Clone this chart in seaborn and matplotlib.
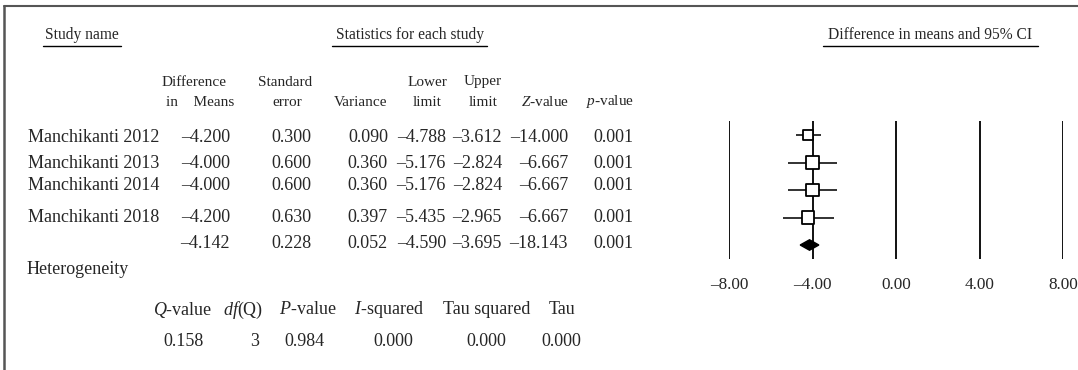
import numpy as np
import pandas as pd
import matplotlib
matplotlib.use("Agg")
import matplotlib.pyplot as plt
import seaborn as sns

sns.set_style("white")
plt.rcParams['font.family'] = ['Liberation Serif', 'DejaVu Serif']
plt.rcParams['mathtext.fontset'] = 'custom'
plt.rcParams['mathtext.rm'] = 'Liberation Serif'
plt.rcParams['mathtext.it'] = 'Liberation Serif:italic'

# study-level data (last row = pooled estimate)
studies = ["Manchikanti 2012", "Manchikanti 2013", "Manchikanti 2014", "Manchikanti 2018", ""]
diff_means = [-4.200, -4.000, -4.000, -4.200, -4.142]
std_err = [0.300, 0.600, 0.600, 0.630, 0.228]
variance = [0.090, 0.360, 0.360, 0.397, 0.052]
lower_limit = [-4.788, -5.176, -5.176, -5.435, -4.590]
upper_limit = [-3.612, -2.824, -2.824, -2.965, -3.695]
z_value = [-14.000, -6.667, -6.667, -6.667, -18.143]
p_value = [0.001, 0.001, 0.001, 0.001, 0.001]

# heterogeneity
het_labels = ["$Q$-value", "$df$(Q)", "$P$-value", "$I$-squared", "Tau squared", "Tau"]
het_values = ["0.158", "3", "0.984", "0.000", "0.000", "0.000"]

x_ticks = [-8, -4, 0, 4, 8]

df = pd.DataFrame({
    "study": studies, "diff": diff_means, "se": std_err, "var": variance,
    "lower": lower_limit, "upper": upper_limit, "z": z_value, "p": p_value,
})
df["row"] = np.arange(len(df))


def fmt(v):
    return f"{v:.3f}".replace("-", "\u2013")


W, H = 1078, 370
fig = plt.figure(figsize=(W / 100, H / 100), dpi=100)

# background axes in pixel coordinates for the table
bg = fig.add_axes([0, 0, 1, 1])
bg.set_xlim(0, W)
bg.set_ylim(H, 0)
bg.axis('off')

frame_c = '#555555'
bg.plot([4, W], [6, 6], color=frame_c, lw=1.5)
bg.plot([4, 4], [6, H], color=frame_c, lw=1.8)

# section headers with underlines
hdr_fs = 11.2
for txt, x0, x1 in [("Study name", 43, 121),
                    ("Statistics for each study", 332, 487),
                    ("Difference in means and 95% CI", 823, 1038)]:
    bg.text((x0 + x1) / 2, 35, txt, fontsize=hdr_fs, ha='center', va='center')
    bg.plot([x0, x1], [46, 46], color='black', lw=1.0)

# column headers
col_hdr = [
    ("Difference", 194, 82), ("in    Means", 200, 102),
    ("Standard", 285, 82), ("error", 287, 102),
    ("Variance", 361, 102),
    ("Lower", 427, 82), ("limit", 427, 102),
    ("Upper", 483, 82), ("limit", 483, 102),
    ("$Z$-value", 545, 102), ("$p$-value", 610, 102),
]
for txt, x, y in col_hdr:
    bg.text(x, y, txt, fontsize=11, ha='center', va='center')

# table rows
row_y = [137, 163, 185, 217, 243]
col_right = {"diff": 230, "se": 311, "var": 388, "lower": 446,
             "upper": 502, "z": 568, "p": 634}
fs = 13
for i, r in df.iterrows():
    y = row_y[i]
    bg.text(28, y, r["study"], fontsize=fs, ha='left', va='center')
    for col, xr in col_right.items():
        bg.text(xr, y, fmt(r[col]), fontsize=fs, ha='right', va='center')

# heterogeneity block
bg.text(27, 270, "Heterogeneity", fontsize=fs, ha='left', va='center')
het_hdr_x = [183, 243, 308, 389, 487, 562]
het_val_x = [183, 255, 304, 393, 486, 561]
for lab, x in zip(het_labels, het_hdr_x):
    bg.text(x, 310, lab, fontsize=fs, ha='center', va='center')
for val, x in zip(het_values, het_val_x):
    bg.text(x, 341, val, fontsize=fs, ha='center', va='center')

# forest plot axes
fx0, fx1 = 729, 1063
fy0, fy1 = 121.25, 258.75
ax = fig.add_axes([fx0 / W, 1 - fy1 / H, (fx1 - fx0) / W, (fy1 - fy0) / H])
ax.set_xlim(-8, 8)
ax.set_ylim(4.5, -0.5)
ax.patch.set_alpha(0)
for s in ax.spines.values():
    s.set_visible(False)
for xv in x_ticks:
    ax.axvline(xv, color='#111111', lw=1.4, zorder=1)

studies_df = df.iloc[:4]
ax.hlines(studies_df["row"], studies_df["lower"], studies_df["upper"],
          color='#222222', lw=1.3, zorder=2)
sns.scatterplot(data=studies_df, x="diff", y="row", marker='s',
                s=[52, 75, 75, 75], color='white', edgecolor='black',
                linewidth=1.3, ax=ax, zorder=3, legend=False)

pooled = df.iloc[4]
py = pooled["row"]
ax.fill([pooled["lower"], pooled["diff"], pooled["upper"], pooled["diff"]],
        [py, py - 0.19, py, py + 0.19], color='black', zorder=3)

ax.set_xticks(x_ticks)
ax.set_xticklabels([f"{v:.2f}".replace("-", "\u2013") for v in x_ticks],
                   fontsize=12.4)
ax.tick_params(axis='x', length=0, pad=13)
ax.set_yticks([])
ax.set_xlabel("")
ax.set_ylabel("")

fig.savefig("out.png", dpi=100)
